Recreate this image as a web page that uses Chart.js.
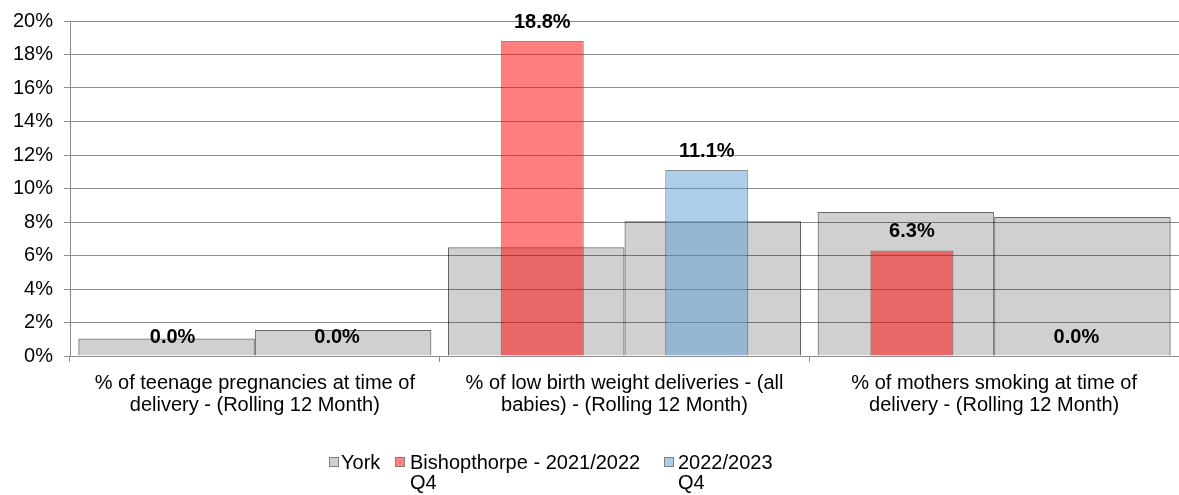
<!DOCTYPE html>
<html>
<head>
<meta charset="utf-8">
<script src="https://cdn.jsdelivr.net/npm/chart.js@4"></script>
<style>
  body { margin: 0; background: #fff; }
  #wrap { position: relative; width: 1179px; height: 495px; overflow: hidden; }
  .leg { position: absolute; font: 20px "Liberation Sans", Arial, sans-serif; line-height: 20px; color: #000; white-space: pre; }
  .sq { position: absolute; width: 8px; height: 8px; border: 1px solid #7f7f7f; }
</style>
</head>
<body>
<div id="wrap">
  <canvas id="chart" width="1179" height="495"></canvas>
  <div class="sq" style="left:329px;top:457px;background:#d0d0d0"></div>
  <div class="leg" style="left:341px;top:452px">York</div>
  <div class="sq" style="left:395px;top:457px;background:#ff8080"></div>
  <div class="leg" style="left:410px;top:452px">Bishopthorpe - 2021/2022
Q4</div>
  <div class="sq" style="left:664px;top:457px;background:#adcdea"></div>
  <div class="leg" style="left:678px;top:452px">2022/2023
Q4</div>
</div>
<script>
const categories = [
  ["% of teenage pregnancies at time of", "delivery - (Rolling 12 Month)"],
  ["% of low birth weight deliveries - (all", "babies) - (Rolling 12 Month)"],
  ["% of mothers smoking at time of", "delivery - (Rolling 12 Month)"]
];
const yorkPrev = [1.05, 6.5, 8.6];
const yorkCurr = [1.55, 8.05, 8.3];
const bishopPrev = [0.0, 18.8, 6.3];
const bishopCurr = [0.0, 11.1, 0.0];
const yTicks = [0, 2, 4, 6, 8, 10, 12, 14, 16, 18, 20];

Chart.defaults.font.family = '"Liberation Sans", Arial, sans-serif';
Chart.defaults.font.size = 20;
Chart.defaults.color = "#000";

const gridColor = "#8c8c8c";

// bold value labels over the Bishopthorpe bars
const valueLabels = {
  id: "valueLabels",
  afterDatasetsDraw(chart) {
    const ctx = chart.ctx;
    ctx.save();
    ctx.font = 'bold 20px "Liberation Sans", Arial, sans-serif';
    ctx.fillStyle = "#000";
    ctx.textAlign = "center";
    ctx.textBaseline = "middle";
    [2, 3].forEach((di) => {
      const meta = chart.getDatasetMeta(di);
      meta.data.forEach((bar, i) => {
        const v = chart.data.datasets[di].data[i];
        ctx.fillText(v.toFixed(1) + "%", bar.x, bar.y - 19);
      });
    });
    ctx.restore();
  },
};

const yorkStyle = {
  order: 2,
  backgroundColor: "rgba(0,0,0,0.185)",
  borderColor: "rgba(0,0,0,0.6)",
  borderWidth: 1,
  categoryPercentage: 0.955,
  barPercentage: 1.0,
};

const bishopStyle = {
  order: 1,
  borderColor: "rgba(0,0,0,0.45)",
  borderWidth: 1,
  categoryPercentage: 0.89,
  barPercentage: 0.505,
};

new Chart(document.getElementById("chart"), {
  type: "bar",
  data: {
    labels: categories,
    datasets: [
      { label: "York", data: yorkPrev, stack: "p1", ...yorkStyle },
      { label: "York", data: yorkCurr, stack: "p2", ...yorkStyle },
      {
        label: "Bishopthorpe - 2021/2022 Q4",
        data: bishopPrev,
        stack: "p1",
        backgroundColor: "rgba(255,0,0,0.5)",
        ...bishopStyle,
      },
      {
        label: "2022/2023 Q4",
        data: bishopCurr,
        stack: "p2",
        backgroundColor: "rgba(91,155,213,0.5)",
        ...bishopStyle,
      },
    ],
  },
  options: {
    responsive: false,
    animation: false,
    layout: { padding: { top: 20, right: -2, bottom: 69, left: 0 } },
    plugins: {
      legend: { display: false },
      tooltip: { enabled: false },
    },
    scales: {
      x: {
        afterFit: (s) => { s.height = 70; },
        grid: {
          drawOnChartArea: false,
          offset: true,
          color: gridColor,
          tickLength: 6,
        },
        border: { color: gridColor },
        ticks: { padding: 10, maxRotation: 0, autoSkip: false, font: { size: 20, lineHeight: 1.1 } },
      },
      y: {
        stacked: false,
        min: 0,
        max: 20,
        afterFit: (s) => { s.width = 70; },
        afterBuildTicks: (s) => { s.ticks = yTicks.map((v) => ({ value: v })); },
        grid: { color: gridColor, tickLength: 6 },
        border: { color: gridColor },
        ticks: { padding: 11, font: { size: 20, lineHeight: 1.0 }, callback: (v) => v + "%" },
      },
    },
  },
  plugins: [valueLabels],
});
</script>
</body>
</html>
